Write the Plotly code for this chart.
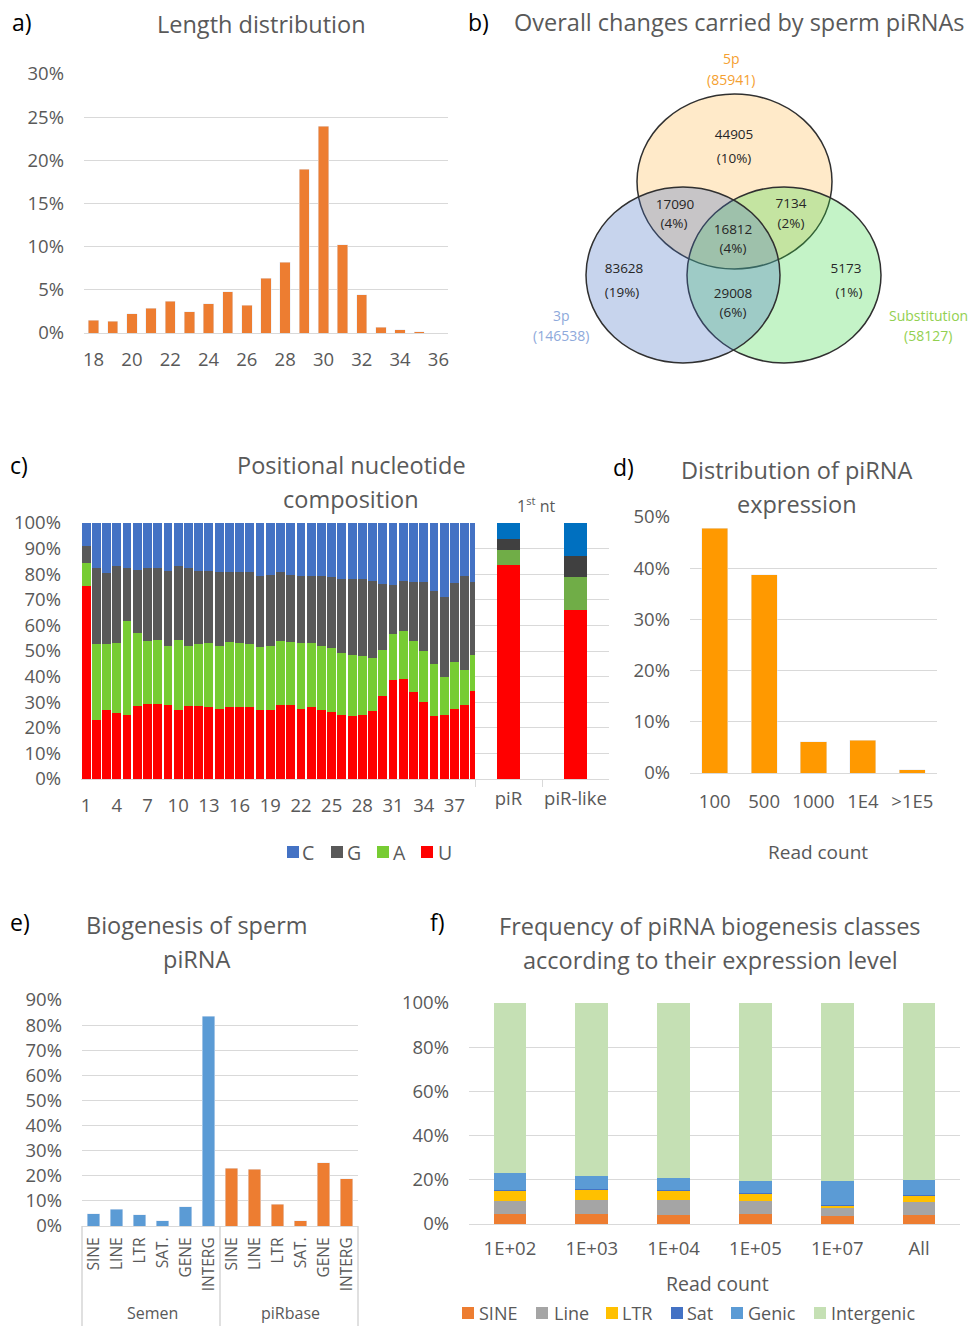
import plotly.graph_objects as go

W, H = 973, 1326
def px(x): return x / W
def py(y): return 1 - y / H

FONT = "Open Sans"
GREY = "#595959"
GRID = "#D9D9D9"

# ---------------- data ----------------
len_nt = list(range(18, 37))
len_pct = [1.47, 1.35, 2.24, 2.89, 3.66, 2.47, 3.36, 4.78, 3.24, 6.36,
           8.21, 18.97, 23.95, 10.22, 4.43, 0.69, 0.39, 0.15, 0.0]
len_ticks = list(range(18, 37, 2))

venn_sets = ["5p", "3p", "Substitution"]
venn_set_totals = [85941, 146538, 58127]
venn_counts = [44905, 17090, 7134, 16812, 83628, 5173, 29008]
venn_pcts = ["(10%)", "(4%)", "(2%)", "(4%)", "(19%)", "(1%)", "(6%)"]

positions = list(range(1, 40))
pos_U = [75.5, 22.9, 27.1, 25.6, 25.1, 28.6, 29.4, 29.4, 28.9, 27.1, 28.6, 28.6, 28.3,
         27.5, 28.0, 28.0, 28.0, 27.1, 27.1, 28.9, 28.9, 27.5, 28.0, 27.1, 26.3, 25.1,
         24.5, 24.9, 26.7, 32.3, 38.8, 39.2, 33.9, 30.1, 24.5, 25.1, 27.5, 29.0, 34.2]
pos_A = [8.9, 29.7, 25.5, 27.4, 36.5, 28.6, 24.6, 25.0, 23.2, 27.3, 23.5, 24.0, 24.7,
         24.6, 25.4, 25.0, 24.6, 24.6, 25.0, 25.1, 24.5, 25.5, 25.0, 25.0, 24.7, 24.1,
         23.8, 23.0, 20.6, 18.2, 17.8, 18.5, 20.1, 19.9, 20.6, 14.7, 18.3, 13.7, 14.1]
pos_G = [6.5, 29.7, 27.7, 30.3, 20.7, 24.6, 28.6, 28.2, 29.3, 28.9, 30.2, 28.8, 28.4,
         28.6, 27.6, 28.0, 28.1, 27.7, 27.7, 26.7, 26.4, 26.4, 26.4, 27.3, 27.8, 28.9,
         29.8, 30.2, 30.2, 25.7, 19.2, 19.5, 22.8, 26.8, 28.5, 31.2, 30.8, 36.7, 28.5]
pos_C = [9.1, 17.7, 19.7, 16.7, 17.7, 18.2, 17.4, 17.4, 18.6, 16.7, 17.7, 18.6, 18.6,
         19.3, 19.0, 19.0, 19.3, 20.6, 20.2, 19.3, 20.2, 20.6, 20.6, 20.6, 21.2, 21.9,
         21.9, 21.9, 22.5, 23.8, 24.2, 22.8, 23.2, 23.2, 26.4, 29.0, 23.4, 20.6, 23.2]
pos_ticks = list(range(1, 39, 3))
nt_names = ["C", "G", "A", "U"]

first_cats = ["piR", "piR-like"]
first_U = [83.7, 66.1]
first_A = [5.9, 12.7]
first_G = [4.3, 8.2]
first_C = [6.1, 13.0]

expr_cats = ["100", "500", "1000", "1E4", ">1E5"]
expr_pct = [47.8, 38.7, 6.1, 6.4, 0.65]

bio_classes = ["SINE", "LINE", "LTR", "SAT.", "GENE", "INTERG"]
bio_semen = [4.8, 6.6, 4.4, 2.0, 7.7, 83.6]
bio_pirbase = [23.0, 22.6, 8.6, 2.0, 25.2, 18.8]

lvl_cats = ["1E+02", "1E+03", "1E+04", "1E+05", "1E+07", "All"]
cls_names = ["SINE", "Line", "LTR", "Sat", "Genic", "Intergenic"]
cls_SINE = [4.7, 4.7, 4.2, 4.7, 3.5, 4.2]
cls_Line = [5.9, 6.3, 6.8, 5.6, 3.7, 5.6]
cls_LTR = [4.5, 4.5, 4.1, 3.4, 1.1, 3.2]
cls_Sat = [0.3, 0.2, 0.2, 0.2, 0.2, 0.2]
cls_Genic = [7.7, 6.2, 5.7, 5.4, 10.8, 6.9]
cls_Inter = [76.9, 78.1, 79.0, 80.7, 80.7, 79.9]

# ---------------- figure ----------------
fig = go.Figure()

fig.add_trace(go.Bar(x=len_nt, y=len_pct, marker_color="#ED7D31", width=0.54,
                     xaxis="x", yaxis="y", showlegend=False))

venn_xy_counts = [(734, 136), (675, 206), (791, 205), (733, 231), (624, 270), (846, 270), (733, 295)]
venn_xy_pcts = [(734, 160), (674, 225), (791, 225), (733, 250), (622, 294), (849, 294), (733, 314)]
fig.add_trace(go.Scatter(
    x=[p[0] for p in venn_xy_counts] + [p[0] for p in venn_xy_pcts],
    y=[p[1] for p in venn_xy_counts] + [p[1] for p in venn_xy_pcts],
    text=[str(c) for c in venn_counts] + venn_pcts,
    mode="text", textfont=dict(family=FONT, size=13.5, color="#262626"),
    xaxis="x2", yaxis="y2", showlegend=False, hoverinfo="skip"))

c_cols = {"U": "#FF0000", "A": "#77CC33", "G": "#595959", "C": "#4472C4"}
for name, vals in [("U", pos_U), ("A", pos_A), ("G", pos_G), ("C", pos_C)]:
    fig.add_trace(go.Bar(x=positions, y=vals, name=name, marker_color=c_cols[name],
                         marker_line_width=0, width=0.86, xaxis="x3", yaxis="y3",
                         showlegend=False))
c2_cols = {"U": "#FF0000", "A": "#70AD47", "G": "#404040", "C": "#0070C0"}
for name, vals in [("U", first_U), ("A", first_A), ("G", first_G), ("C", first_C)]:
    fig.add_trace(go.Bar(x=first_cats, y=vals, name=name, marker_color=c2_cols[name],
                         marker_line_width=0, width=0.34, xaxis="x4", yaxis="y4",
                         showlegend=False))

fig.add_trace(go.Bar(x=expr_cats, y=expr_pct, marker_color="#FF9900", width=0.53,
                     xaxis="x5", yaxis="y5", showlegend=False))

semen_ids = ["Semen " + c for c in bio_classes]
pirb_ids = ["piRbase " + c for c in bio_classes]
fig.add_trace(go.Bar(x=semen_ids, y=bio_semen, marker_color="#5B9BD5", width=0.55,
                     xaxis="x6", yaxis="y6", showlegend=False))
fig.add_trace(go.Bar(x=pirb_ids, y=bio_pirbase, marker_color="#ED7D31", width=0.55,
                     xaxis="x6", yaxis="y6", showlegend=False))

f_cols = ["#ED7D31", "#A5A5A5", "#FFC000", "#4472C4", "#5B9BD5", "#C5E0B4"]
for name, vals, col in zip(cls_names, [cls_SINE, cls_Line, cls_LTR, cls_Sat, cls_Genic, cls_Inter], f_cols):
    fig.add_trace(go.Bar(x=lvl_cats, y=vals, name=name, marker_color=col, marker_line_width=0,
                         width=0.4, xaxis="x7", yaxis="y7", showlegend=False))

tickf = dict(family=FONT, size=18.5, color=GREY)

def yax(dom, rng, dtick, grid=True, labels=True, anchor="x"):
    return dict(domain=dom, range=rng, dtick=dtick, ticksuffix="%", showgrid=grid,
                gridcolor=GRID, gridwidth=1.3, zeroline=False, showline=False, ticks="",
                tickfont=tickf, showticklabels=labels, ticklabelstandoff=19,
                anchor=anchor, fixedrange=True, automargin=False)

def xax(dom, **kw):
    d = dict(domain=dom, showgrid=False, zeroline=False, showline=True, linecolor=GRID,
             linewidth=1.3, ticks="", tickfont=tickf, tickangle=0, automargin=False,
             fixedrange=True)
    d.update(kw)
    return d

layout = dict(
    width=W, height=H, margin=dict(l=0, r=0, t=0, b=0, pad=0), autosize=False,
    paper_bgcolor="white", plot_bgcolor="white", barmode="stack", showlegend=False,
    font=dict(family=FONT, color=GREY),
    xaxis=xax([px(84), px(448)], range=[17.5, 36.5], tickvals=len_ticks,
              ticklabelstandoff=10, anchor="y"),
    yaxis=yax([py(333), py(74)], [0, 30], 5, anchor="x"),
    xaxis2=dict(domain=[px(470), 1], range=[470, 973], visible=False, anchor="y2",
                automargin=False, fixedrange=True),
    yaxis2=dict(domain=[py(380), py(40)], range=[380, 40], visible=False, anchor="x2",
                automargin=False, fixedrange=True),
    xaxis3=xax([px(81), px(480)], range=[0.5, 39.5], tickvals=pos_ticks,
               ticklabelstandoff=10, anchor="y3"),
    yaxis3=yax([py(779), py(523)], [0, 100], 10, grid=False, anchor="x3"),
    xaxis4=xax([px(475), px(609)], type="category", ticks="outside", tickson="boundaries",
               ticklen=7, tickcolor=GRID, tickwidth=1.3, ticklabelstandoff=3, anchor="y4"),
    yaxis4=yax([py(779), py(523)], [0, 100], 10, labels=False, anchor="x4"),
    xaxis5=xax([px(690), px(937)], type="category", ticklabelstandoff=12, anchor="y5"),
    yaxis5=yax([py(773), py(517)], [0, 50], 10, anchor="x5"),
    xaxis6=xax([px(82), px(358)], type="category", tickvals=semen_ids + pirb_ids,
               ticktext=bio_classes + bio_classes, tickangle=-90,
               tickfont=dict(family=FONT, size=15.5, color=GREY), ticklabelstandoff=4,
               anchor="y6"),
    yaxis6=yax([py(1226), py(1000)], [0, 90], 10, anchor="x6"),
    xaxis7=xax([px(469), px(960)], type="category", ticklabelstandoff=8, anchor="y7"),
    yaxis7=yax([py(1224), py(1003)], [0, 100], 20, anchor="x7"),
)
fig.update_layout(**layout)

# venn circles: 5p, Substitution, then 3p on top (blend order as in reference)
circles = [
    (637, 94, 832, 269, "rgba(255,180,60,0.28)"),
    (687, 187, 881, 363, "rgba(60,215,70,0.30)"),
    (586, 187, 780, 363, "rgba(68,114,196,0.30)"),
]
for x0, y0, x1, y1, fc in circles:
    fig.add_shape(type="circle", xref="x2", yref="y2", x0=x0, y0=y0, x1=x1, y1=y1,
                  fillcolor=fc, line=dict(color="#303030", width=1.5), layer="below")

for d in [0, 0.5, 1]:
    fig.add_shape(type="line", xref="x6 domain", yref="paper", x0=d, x1=d,
                  y0=py(1226), y1=py(1326), line=dict(color="#D0D0D0", width=1.3))

ann = []
def A(text, x, y, size=23.5, color=GREY, xanchor="center", **kw):
    ann.append(dict(text=text, x=px(x), y=py(y), xref="paper", yref="paper",
                    xanchor=xanchor, yanchor="middle", showarrow=False,
                    font=dict(family=FONT, size=size, color=color), **kw))

def legend_items(names, colors, sq_x, txt_x, yc, size, sq=11):
    for n, c, sx, tx in zip(names, colors, sq_x, txt_x):
        fig.add_shape(type="rect", xref="paper", yref="paper",
                      x0=px(sx), x1=px(sx + sq), y0=py(yc + sq / 2), y1=py(yc - sq / 2),
                      fillcolor=c, line_width=0)
        A(n, tx, yc, size=size, xanchor="left")

legend_items(nt_names, [c_cols[n] for n in nt_names], [287, 331, 377, 421],
             [300, 345, 391, 436], 852, 19.5, sq=12)
legend_items(cls_names, f_cols, [462, 536, 606, 671, 731, 814],
             [477, 552, 620, 685, 746, 829], 1313, 18, sq=12)

for t, x, y in [("a)", 10, 22), ("b)", 466, 22), ("c)", 8, 465), ("d)", 611, 467),
                ("e)", 8, 922), ("f)", 428, 922)]:
    A(t, x, y, size=23, color="#000000", xanchor="left")
A("Length distribution", 261, 24)
A("Overall changes carried by sperm piRNAs", 512, 22, xanchor="left")
A("Positional nucleotide", 351, 465)
A("composition", 351, 499)
A("1<sup>st</sup> nt", 536, 505, size=16)
A("Distribution of piRNA", 797, 470)
A("expression", 797, 504)
A("Read count", 818, 852, size=19)
A("Biogenesis of sperm", 197, 925)
A("piRNA", 197, 959)
A("Frequency of piRNA biogenesis classes", 710, 926)
A("according to their expression level", 710, 960)
A("Read count", 717, 1283, size=19.5)
A("Semen", 152, 1313, size=16)
A("piRbase", 290, 1313, size=16)
A(venn_sets[0], 731, 59, size=14, color="#F5A030")
A(f"({venn_set_totals[0]})", 731, 79, size=14, color="#F5A030")
A(venn_sets[1], 561, 315, size=14, color="#8EA9DB")
A(f"({venn_set_totals[1]})", 561, 335, size=14, color="#8EA9DB")
A(venn_sets[2], 928, 315, size=14, color="#92D050")
A(f"({venn_set_totals[2]})", 928, 335, size=14, color="#92D050")

fig.update_layout(annotations=ann)

pin = ("document.body.style.margin='0';document.body.style.overflow='hidden';"
       "var gd=document.getElementById('{plot_id}');"
       "gd.style.position='fixed';gd.style.left='0px';gd.style.top='0px';")
fig.write_html("out.html", post_script=pin, config={"displayModeBar": False})
